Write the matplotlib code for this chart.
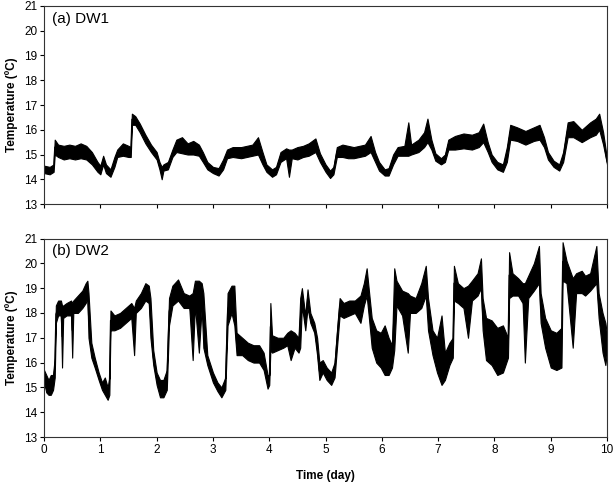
import matplotlib
matplotlib.use("Agg")
import matplotlib.pyplot as plt
import numpy as np

plt.rcParams['font.family'] = ['Liberation Sans', 'DejaVu Sans']

# DW1: time (day), lower and upper edge of the noisy trace (deg C)
t1 = [0.00, 0.10, 0.17, 0.19, 0.25, 0.35, 0.45, 0.55, 0.65, 0.75, 0.85, 0.95,
      1.00, 1.05, 1.10, 1.18, 1.25, 1.30, 1.40, 1.50, 1.54, 1.56, 1.62, 1.70,
      1.80, 1.90, 2.00, 2.05, 2.09, 2.12, 2.20, 2.28, 2.35, 2.45, 2.55, 2.65,
      2.75, 2.82, 2.90, 3.00, 3.10, 3.18, 3.25, 3.35, 3.50, 3.60, 3.70, 3.80,
      3.88, 3.95, 4.05, 4.12, 4.20, 4.30, 4.35, 4.40, 4.50, 4.60, 4.70, 4.82,
      4.90, 5.00, 5.08, 5.14, 5.20, 5.30, 5.40, 5.50, 5.60, 5.70, 5.80, 5.88,
      5.95, 6.05, 6.12, 6.20, 6.28, 6.40, 6.47, 6.52, 6.65, 6.75, 6.81, 6.88,
      6.95, 7.05, 7.12, 7.18, 7.30, 7.45, 7.60, 7.72, 7.80, 7.88, 7.95, 8.05,
      8.15, 8.22, 8.28, 8.40, 8.55, 8.70, 8.80, 8.88, 8.95, 9.05, 9.15, 9.22,
      9.30, 9.40, 9.55, 9.70, 9.80, 9.86, 9.93, 10.0]
lo1 = [14.25, 14.2, 14.3, 15.0, 14.9, 14.8, 14.85, 14.8, 14.85, 14.8, 14.6, 14.3,
       14.2, 14.6, 14.25, 14.1, 14.5, 14.9, 14.95, 14.9, 14.9, 16.2, 16.2, 15.9,
       15.45, 15.1, 14.8, 14.4, 14.0, 14.35, 14.4, 14.9, 15.1, 15.05, 15.0, 15.0,
       14.95, 14.7, 14.4, 14.25, 14.15, 14.4, 14.85, 14.9, 14.85, 14.9, 14.95, 15.0,
       14.6, 14.3, 14.1, 14.2, 14.7, 14.85, 14.1, 14.85, 14.8, 14.9, 14.95, 15.1,
       14.7, 14.3, 14.05, 14.2, 14.9, 14.9, 14.85, 14.85, 14.9, 14.95, 15.1, 14.7,
       14.35, 14.15, 14.15, 14.6, 14.95, 14.95, 14.95, 15.0, 15.1, 15.3, 15.5, 15.2,
       14.75, 14.6, 14.7, 15.2, 15.2, 15.25, 15.2, 15.3, 15.5, 15.1, 14.7, 14.4,
       14.3, 14.7, 15.6, 15.55, 15.4, 15.55, 15.6, 15.3, 14.8, 14.5, 14.35, 14.7,
       15.7, 15.7, 15.5, 15.7, 15.8, 16.0, 15.4, 14.6]
hi1 = [14.55, 14.5, 14.6, 15.6, 15.4, 15.35, 15.4, 15.35, 15.45, 15.35, 15.1, 14.7,
       14.55, 14.95, 14.6, 14.4, 14.9, 15.2, 15.45, 15.35, 15.3, 16.65, 16.55, 16.25,
       15.8, 15.4, 15.1, 14.7, 14.5, 14.6, 14.7, 15.2, 15.6, 15.7, 15.45, 15.55,
       15.4, 15.1, 14.7, 14.5, 14.45, 14.8, 15.2, 15.3, 15.3, 15.35, 15.4, 15.7,
       15.1, 14.6, 14.4, 14.5, 15.1, 15.25, 15.2, 15.2, 15.3, 15.35, 15.45, 15.65,
       15.05, 14.6, 14.35, 14.5, 15.3, 15.4, 15.35, 15.3, 15.35, 15.4, 15.75, 15.1,
       14.7, 14.4, 14.45, 15.0, 15.3, 15.35, 16.3, 15.4, 15.6, 15.9, 16.45, 15.6,
       15.05, 14.85, 15.0, 15.6, 15.75, 15.85, 15.8, 15.9, 16.25, 15.5, 15.0, 14.7,
       14.6, 15.3, 16.2, 16.1, 15.95, 16.1, 16.2, 15.7, 15.1, 14.75, 14.6, 15.1,
       16.3, 16.35, 16.0, 16.3, 16.45, 16.65, 15.9, 14.8]

# DW2: time (day), lower and upper edge of the noisy trace (deg C)
t2 = [0.00, 0.04, 0.08, 0.12, 0.16, 0.19, 0.21, 0.25, 0.30, 0.32, 0.34, 0.40,
      0.48, 0.50, 0.52, 0.60, 0.68, 0.74, 0.77, 0.79, 0.84, 0.90, 0.97, 1.03,
      1.08, 1.13, 1.16, 1.18, 1.25, 1.35, 1.45, 1.55, 1.60, 1.63, 1.72, 1.80,
      1.86, 1.89, 1.94, 2.00, 2.06, 2.12, 2.18, 2.22, 2.28, 2.38, 2.48, 2.58,
      2.64, 2.68, 2.75, 2.80, 2.83, 2.90, 3.00, 3.08, 3.15, 3.22, 3.26, 3.33,
      3.38, 3.42, 3.52, 3.62, 3.72, 3.82, 3.90, 3.97, 4.00, 4.02, 4.05, 4.15,
      4.25, 4.32, 4.38, 4.45, 4.52, 4.55, 4.58, 4.64, 4.68, 4.73, 4.80, 4.85,
      4.89, 4.95, 5.02, 5.10, 5.16, 5.21, 5.25, 5.32, 5.42, 5.52, 5.62, 5.68,
      5.73, 5.77, 5.82, 5.90, 5.98, 6.05, 6.12, 6.18, 6.22, 6.26, 6.36, 6.46,
      6.50, 6.60, 6.70, 6.78, 6.82, 6.90, 6.98, 7.06, 7.12, 7.20, 7.26, 7.28,
      7.35, 7.45, 7.53, 7.60, 7.70, 7.76, 7.79, 7.85, 7.95, 8.05, 8.15, 8.24,
      8.26, 8.32, 8.42, 8.50, 8.54, 8.60, 8.70, 8.79, 8.82, 8.90, 9.00, 9.10,
      9.19, 9.21, 9.28, 9.39, 9.45, 9.55, 9.61, 9.70, 9.81, 9.85, 9.92, 9.97,
      10.0]
lo2 = [15.2, 14.8, 14.7, 14.7, 14.9, 15.4, 17.6, 17.9, 17.9, 15.8, 17.8, 17.9,
       17.9, 16.2, 18.0, 18.0, 18.2, 18.4, 18.6, 17.0, 16.2, 15.8, 15.3, 14.9,
       14.7, 14.5, 14.7, 17.3, 17.3, 17.4, 17.6, 17.8, 16.3, 18.0, 18.2, 18.5,
       18.4, 17.0, 15.9, 15.1, 14.6, 14.6, 14.9, 17.5, 18.3, 18.5, 18.2, 18.2,
       16.1, 18.3, 16.4, 18.2, 16.6, 15.9, 15.2, 14.85, 14.6, 14.9, 17.5, 18.0,
       17.5, 16.3, 16.3, 16.1, 16.0, 16.0, 15.7, 14.95, 15.1, 16.5, 16.4, 16.5,
       16.6, 16.7, 16.1, 16.6, 16.4, 16.6, 18.3, 17.3, 18.2, 17.6, 17.2, 16.3,
       15.3, 15.6, 15.3, 15.1, 15.4, 16.8, 17.9, 17.8, 17.9, 18.0, 17.6, 18.3,
       18.7, 17.8, 16.6, 16.0, 15.8, 15.5, 15.5, 15.8, 16.5, 18.3, 17.9, 16.4,
       18.0, 18.0, 18.2, 18.7, 17.3, 16.3, 15.6, 15.1, 15.3, 15.9, 16.2, 18.5,
       18.4, 18.2, 17.0, 18.5, 18.7, 19.0, 17.3, 16.1, 15.9, 15.5, 15.6, 16.2,
       18.6, 18.7, 18.7, 18.4, 16.0, 18.6, 18.9, 19.2, 17.6, 16.6, 15.8, 15.7,
       15.8, 19.3, 19.2, 16.6, 18.8, 18.8, 18.7, 18.9, 19.2, 17.8, 16.4, 15.9,
       16.5]
hi2 = [15.7, 15.5, 15.3, 15.5, 15.5, 16.2, 18.3, 18.5, 18.5, 18.3, 18.3, 18.4,
       18.5, 18.4, 18.5, 18.7, 18.9, 19.2, 19.3, 18.8, 16.8, 16.2, 15.6, 15.2,
       15.4, 15.0, 15.4, 18.1, 17.9, 18.0, 18.2, 18.4, 18.2, 18.5, 18.8, 19.2,
       19.1, 18.6, 16.5, 15.6, 15.3, 15.3, 15.7, 18.6, 19.1, 19.35, 18.8, 18.7,
       18.8, 19.3, 19.3, 19.2, 18.8, 16.3, 15.6, 15.2, 15.0, 15.4, 18.8, 19.1,
       19.1, 17.2, 17.0, 16.8, 16.7, 16.7, 16.4, 15.5, 15.5, 18.4, 17.1, 17.0,
       17.0, 17.2, 17.3, 17.2, 17.0, 18.6, 19.0, 17.9, 18.95, 18.0, 17.6, 17.0,
       16.0, 16.1, 15.8, 15.6, 16.0, 17.5, 18.6, 18.4, 18.5, 18.5, 18.7, 19.2,
       19.8, 18.9, 17.8, 17.3, 17.2, 17.5, 17.0, 16.7, 19.8, 19.3, 18.9, 18.8,
       18.7, 18.6, 19.2, 19.9, 18.6, 17.3, 17.0, 17.9, 16.4, 16.8, 17.0, 19.9,
       19.2, 19.0, 19.1, 19.3, 19.6, 20.2, 18.6, 17.8, 17.7, 17.4, 17.5, 17.0,
       20.45, 19.6, 19.4, 19.2, 19.2, 19.5, 20.0, 20.7, 18.8, 17.8, 17.3, 17.2,
       17.4, 20.85, 20.1, 19.4, 19.6, 19.7, 19.5, 19.6, 20.7, 18.8, 18.0, 17.6,
       17.1]

day_ticks = list(range(0, 11))
temp_ticks = list(range(13, 22))

fig = plt.figure(figsize=(6.14, 4.83), dpi=100)
ax1 = fig.add_axes([0.0717, 0.5776, 0.917, 0.41])
ax2 = fig.add_axes([0.0717, 0.0952, 0.917, 0.411])

panels = [(ax1, t1, lo1, hi1, '(a) DW1'), (ax2, t2, lo2, hi2, '(b) DW2')]
for ax, t, lo, hi, label in panels:
    ax.fill_between(t, lo, hi, color='black', lw=0.8)
    ax.plot(t, (np.array(lo) + np.array(hi)) / 2, color='black', lw=0.8)
    ax.set_xlim(0, 10)
    ax.set_ylim(13, 21)
    ax.set_xticks(day_ticks)
    ax.set_yticks(temp_ticks)
    ax.tick_params(direction='out', length=3, width=0.8, labelsize=8.5, pad=2)
    for sp in ax.spines.values():
        sp.set_linewidth(0.8)
        sp.set_color('#333333')
    ax.set_ylabel('Temperature (\u00baC)', fontsize=8.5, fontweight='bold', labelpad=4)
    ax.text(0.015, 0.97, label, transform=ax.transAxes, fontsize=11, va='top', ha='left')

ax1.set_xticklabels([])
ax2.set_xlabel('Time (day)', fontsize=8.5, fontweight='bold', labelpad=10)

fig.savefig('out.png', dpi=100)
